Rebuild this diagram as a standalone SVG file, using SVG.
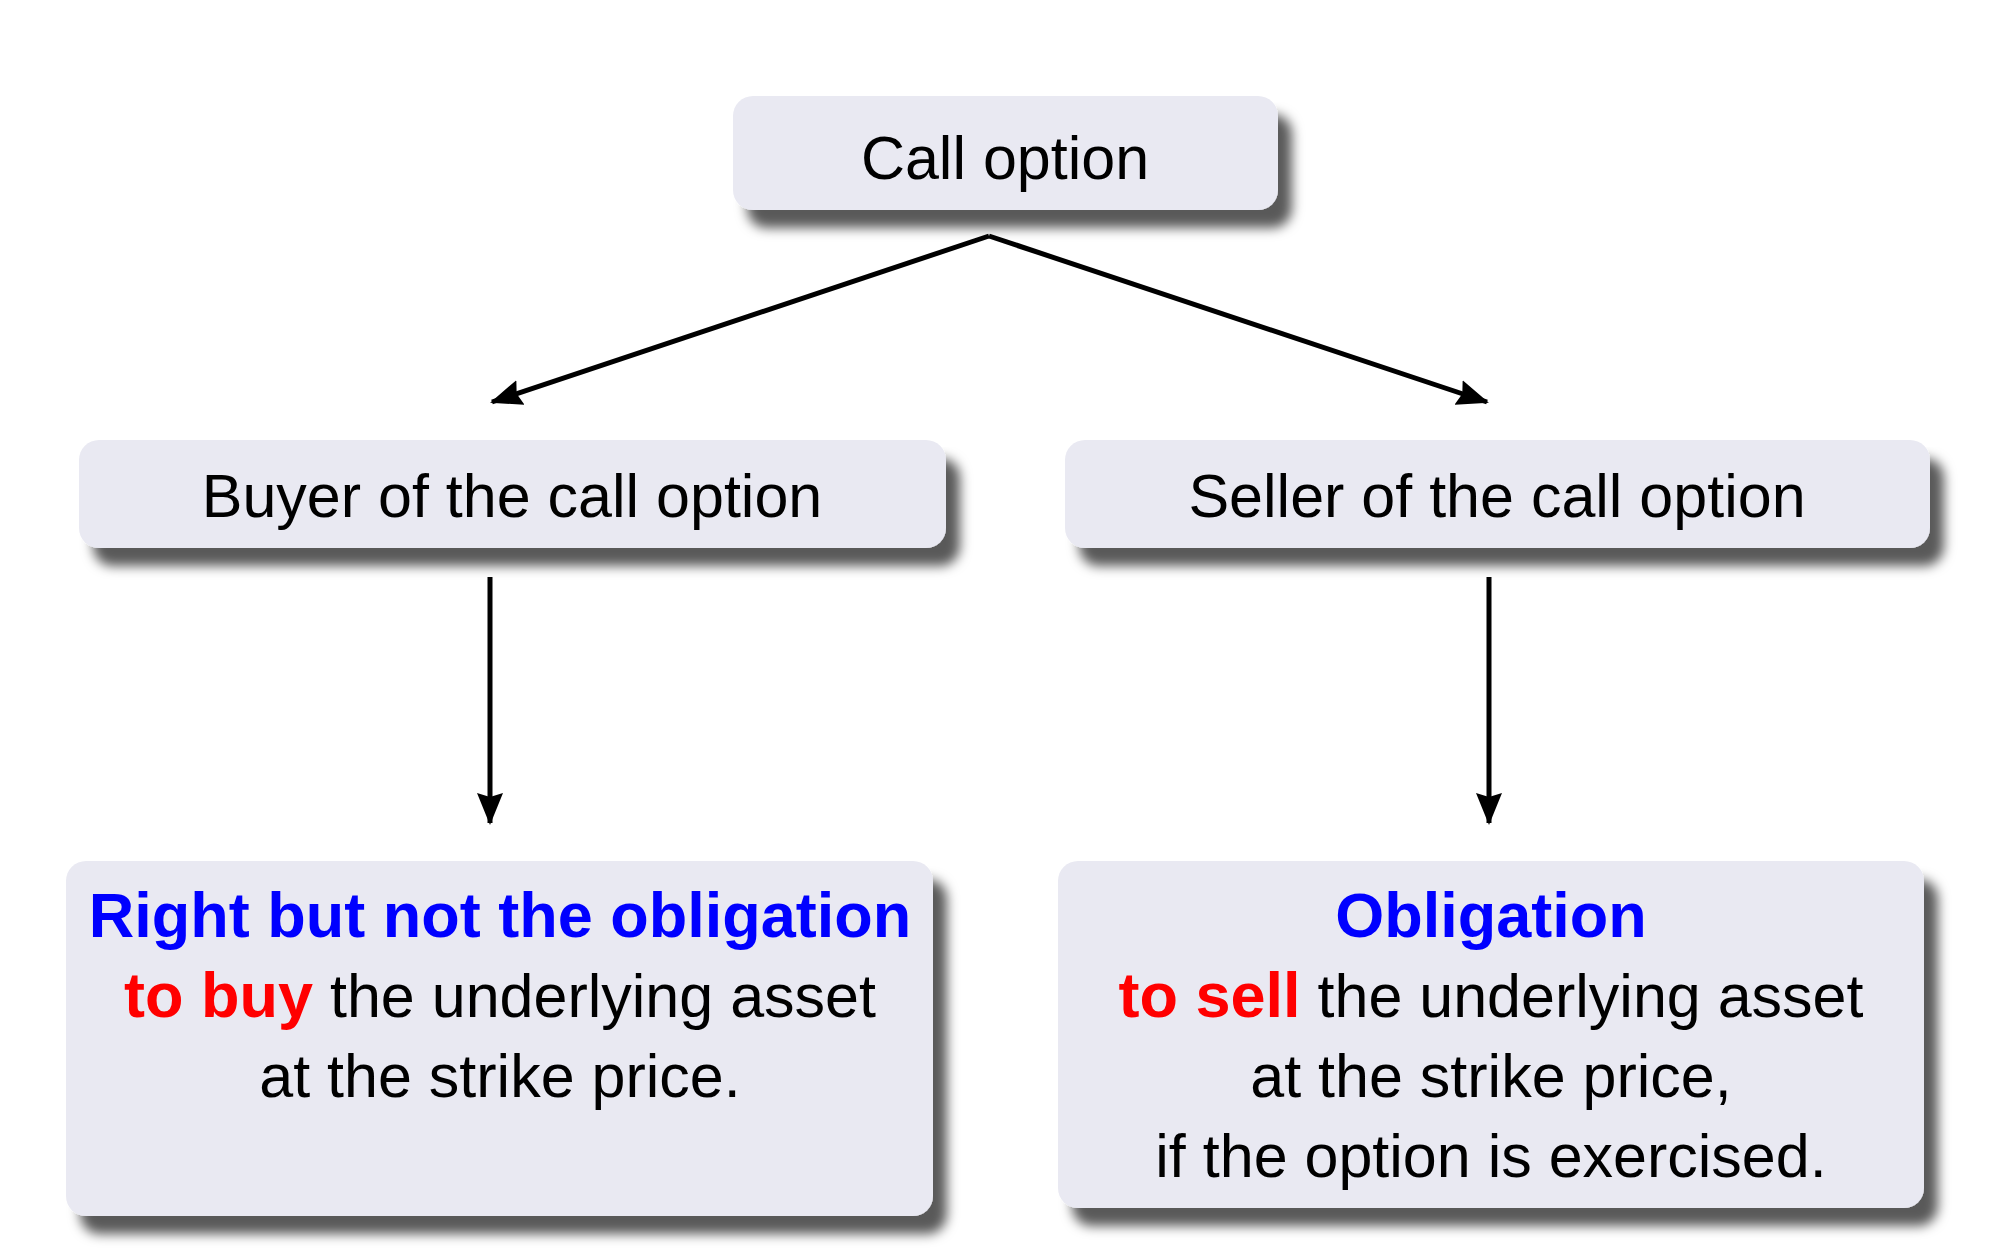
<svg xmlns="http://www.w3.org/2000/svg" width="2000" height="1252" viewBox="0 0 2000 1252">
<style>
.box{fill:#e9e9f2;filter:url(#sh)}
.t{font-family:"Liberation Sans",Arial,sans-serif;font-size:61px;fill:#000;text-anchor:middle}
.b{font-weight:bold;font-size:63px}
.blue{fill:#0000ff}
.red{fill:#ff0000}
.edge{stroke:#000;stroke-width:5;fill:none;marker-end:url(#ah)}
</style>
<defs>
<filter id="sh" x="-5%" y="-10%" width="115%" height="140%">
<feGaussianBlur in="SourceAlpha" stdDeviation="6"/>
<feOffset dx="14" dy="18" result="b"/>
<feFlood flood-color="#000" flood-opacity="0.65"/>
<feComposite in2="b" operator="in"/>
<feMerge><feMergeNode/><feMergeNode in="SourceGraphic"/></feMerge>
</filter>
<marker id="ah" viewBox="0 0 32 26" refX="30" refY="13" markerWidth="32" markerHeight="26" markerUnits="userSpaceOnUse" orient="auto">
<path d="M0,0 L32,13 L0,26 L4,13 Z" fill="#000"/>
</marker>
</defs>
<rect width="2000" height="1252" fill="#fff"/>
<g id="edges">
<path class="edge" d="M989,236 L492,402"/>
<path class="edge" d="M989,236 L1487,402"/>
<path class="edge" d="M490,577 L490,823"/>
<path class="edge" d="M1489,577 L1489,823"/>
</g>
<g id="call">
<rect class="box" x="733" y="96" width="545" height="114" rx="20"/>
<text class="t" x="1005" y="179">Call option</text>
</g>
<g id="buyer">
<rect class="box" x="79" y="440" width="867" height="108" rx="20"/>
<text class="t" x="512" y="517">Buyer of the call option</text>
</g>
<g id="seller">
<rect class="box" x="1065" y="440" width="865" height="108" rx="20"/>
<text class="t" x="1497" y="517">Seller of the call option</text>
</g>
<g id="right">
<rect class="box" x="66" y="861" width="867" height="355" rx="20"/>
<text class="t b blue" x="500" y="937">Right but not the obligation</text>
<text class="t" x="500" y="1017"><tspan class="b red">to buy</tspan> the underlying asset</text>
<text class="t" x="500" y="1097">at the strike price.</text>
</g>
<g id="obligation">
<rect class="box" x="1058" y="861" width="866" height="347" rx="20"/>
<text class="t b blue" x="1491" y="937">Obligation</text>
<text class="t" x="1491" y="1017"><tspan class="b red">to sell</tspan> the underlying asset</text>
<text class="t" x="1491" y="1097">at the strike price,</text>
<text class="t" x="1491" y="1177">if the option is exercised.</text>
</g>
</svg>
